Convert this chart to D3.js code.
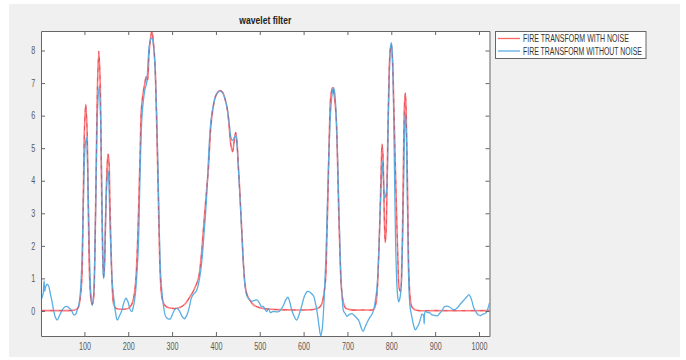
<!DOCTYPE html>
<html>
<head>
<meta charset="utf-8">
<script src="https://cdn.jsdelivr.net/npm/d3@7"></script>
<style>
  html, body { margin: 0; padding: 0; background: #ffffff; }
  svg { display: block; font-family: "Liberation Sans", Arial, sans-serif; }
</style>
</head>
<body>
<svg id="chart" width="686" height="360"></svg>
<script>
// ---------- DATA ----------
const chartTitle = "wavelet filter";
const seriesNames = ["FIRE TRANSFORM WITH NOISE", "FIRE TRANSFORM WITHOUT NOISE"];
const xTicks = [100, 200, 300, 400, 500, 600, 700, 800, 900, 1000];
const yTicks = [0, 1, 2, 3, 4, 5, 6, 7, 8];

const redX = [1,20,50,75,85,90,94,97,100,103,106,109,112,115,118,121,124,127,130,133,136,139,142,144,146,149,152,154,156,158,161,164,167,172,185,200,208,213,217,221,224,227,230,234,238,241,244,247,250,254,257,261,264,267,270,273,276,280,288,300,311,320,330,341,350,360,366,372,378,383,388,393,398,404,410,416,421,426,430,434,438,441,445,448,451,454,457,460,463,467,471,478,486,500,517,540,600,625,635,641,646,650,653,656,659,662,666,670,674,677,680,683,686,690,695,705,740,760,765,768,771,774,777,779,781,783,786,788,791,794,797,800,803,806,809,812,815,818,821,824,827,830,832,834,837,840,843,847,855,900,1024];
const redY = [0.01,0.01,0.01,0.02,0.08,0.35,0.95,3.0,5.5,6.35,5.6,3.0,1.0,0.35,0.2,0.4,1.8,4.5,7.0,7.98,7.0,4.0,1.6,1.05,1.5,3.2,4.5,4.82,4.6,3.5,1.8,0.6,0.2,0.08,0.05,0.08,0.2,0.45,0.9,2.0,3.3,4.8,6.2,6.7,7.0,7.2,7.1,7.8,8.3,8.6,8.3,7.6,6.2,4.5,2.6,1.1,0.5,0.25,0.12,0.08,0.08,0.12,0.22,0.44,0.65,1.0,1.6,2.6,3.6,4.4,5.6,6.2,6.55,6.72,6.77,6.7,6.5,6.2,5.7,5.1,4.89,5.15,5.48,5.2,4.5,3.8,3.0,2.2,1.4,0.75,0.5,0.32,0.18,0.1,0.06,0.04,0.03,0.05,0.1,0.2,0.5,0.95,2.2,3.8,5.6,6.6,6.86,6.6,6.0,4.8,3.1,1.7,0.75,0.3,0.1,0.04,0.03,0.05,0.25,0.65,1.6,2.8,4.4,5.13,4.8,3.6,2.1,2.4,4.5,6.7,7.9,8.19,7.6,6.2,4.6,3.0,1.6,0.7,0.6,1.4,3.8,6.3,6.7,6.1,3.8,1.2,0.4,0.12,0.03,0.01,0.01];

const blueX = [1,3,6,8,9.5,11,15,18,22,26,30,34,38,43,49,55,60,66,71,76,80,84,87,90,94,97,100,102,104.5,107,110,113,116,118,121,124,127,130,134,137,140,142,143.5,145,147,150,152,154,156,158,161,164,168,171,175,180,184.5,190,194.5,199,204,208,212,216,219,223,227,231,234,238,242,245,248,253,256,259,262,265,268,271,274,277.5,281,284,288,295,301,306,311,316,322,328,334,339,344,349,355,360,365,369,373,376.5,380,383,386,389,394,399.5,405,410,416,421,426,430,434,437.6,441,445,448,451,454,457,460,463,467,471,476,481,487,493,499,504,508,512,516,520,524,529,535,541,547,554,559,564,568,573,579,584,590,596,601,605,609,614,619,623,627,631,635,639,642,645,648,651,654,657,660,663,666,668.5,671,674,677,680,683,686,688,691,695,699,703,710,714,720,726,731,735.5,740,745,750,756,760,764,767.5,771,774,777,780,782,785,788,790,793,796,798,800.4,803,806,808,810,813,815,817,819,822,825,828,830,832,834,836,838,840,843,847.5,851,855,859,863,867,870,873,875,876,878,882,887,893,899,905,910,916,921,927,933,940,945,951,958,965,972,977,980,984,988,993,998,1004,1009,1014,1018,1021,1024];
const blueY = [0.35,0.4,0.55,0.92,0.6,0.72,0.82,0.78,0.55,0.3,0.0,-0.2,-0.28,-0.15,0.02,0.12,0.14,0.08,0.0,-0.12,-0.1,0.05,0.17,0.45,1.4,3.0,4.6,5.1,5.33,4.6,2.8,1.0,0.3,0.17,0.5,1.9,4.2,6.2,6.91,5.9,3.5,1.8,1.0,1.1,2.0,3.6,4.1,4.31,3.9,2.8,1.6,0.8,0.28,-0.05,-0.28,-0.15,-0.02,0.25,0.39,0.3,0.05,-0.02,0.15,0.49,1.0,1.97,4.2,5.9,6.4,6.8,7.0,7.6,8.15,8.39,8.3,7.93,7.2,6.0,4.3,2.4,1.1,0.49,0.1,-0.12,-0.22,-0.25,-0.1,0.04,0.08,0.02,-0.15,-0.24,-0.12,0.1,0.4,0.52,0.6,0.82,1.2,1.7,2.4,3.0,3.8,4.7,5.4,5.9,6.3,6.6,6.72,6.76,6.68,6.5,6.2,5.8,5.35,5.23,5.3,5.4,5.1,4.4,3.7,2.9,2.1,1.35,0.7,0.45,0.35,0.3,0.32,0.34,0.25,0.13,0.14,0.05,-0.02,0.08,-0.05,-0.02,-0.02,-0.03,0.02,0.17,0.33,0.42,0.3,0.02,-0.18,-0.28,-0.1,0.17,0.42,0.54,0.6,0.58,0.52,0.45,0.24,-0.05,-0.45,-0.77,-0.6,-0.1,0.75,1.7,3.2,4.6,5.7,6.4,6.75,6.86,6.7,6.1,5.0,3.4,1.9,0.8,0.4,0.0,-0.08,-0.17,-0.12,-0.08,-0.12,-0.2,-0.3,-0.5,-0.63,-0.5,-0.35,-0.22,-0.1,0.05,0.35,0.74,1.6,2.8,3.9,4.6,4.1,3.45,3.6,3.8,5.8,7.5,8.1,8.24,7.7,5.5,3.6,2.0,0.74,0.4,0.28,0.35,0.64,1.7,3.8,5.4,6.1,5.6,4.0,2.2,0.8,0.1,-0.22,-0.45,-0.58,-0.5,-0.4,-0.22,-0.1,-0.12,-0.4,-0.1,0.0,-0.05,-0.05,-0.12,-0.14,-0.15,-0.08,0.02,0.13,0.15,0.12,0.05,0.04,0.1,0.22,0.32,0.43,0.5,0.45,0.3,0.1,-0.02,-0.12,-0.14,-0.1,-0.08,-0.02,0.1,0.25];

// ---------- LAYOUT ----------
const W = 686, H = 360;
const plot = { left: 41, right: 489.5, top: 31, bottom: 336 };
const svg = d3.select("#chart");

svg.append("rect").attr("x", 0).attr("y", 0).attr("width", W).attr("height", H).attr("fill", "#ffffff");
svg.append("rect").attr("x", 9).attr("y", 4).attr("width", 671).attr("height", 353).attr("fill", "#f0f0f0");
svg.append("rect").attr("x", plot.left).attr("y", plot.top)
   .attr("width", plot.right - plot.left).attr("height", plot.bottom - plot.top).attr("fill", "#ffffff");

const x = d3.scaleLinear().domain([1, 1024]).range([plot.left, plot.right]);
const y = d3.scaleLinear().domain([-0.77, 8.6]).range([plot.bottom, plot.top]);

svg.append("defs").append("clipPath").attr("id", "clip")
   .append("rect").attr("x", plot.left).attr("y", plot.top)
   .attr("width", plot.right - plot.left).attr("height", plot.bottom - plot.top);

const redData = redX.map((v, i) => [v, redY[i]]);
const blueData = blueX.map((v, i) => [v, blueY[i]]);
const line = d3.line().x(d => x(d[0])).y(d => y(d[1])).curve(d3.curveCatmullRom.alpha(0.5));

const redColor = "#ff6464";
const blueColor = "#5aaee3";

const g = svg.append("g").attr("clip-path", "url(#clip)");
g.append("path").attr("d", line(redData)).attr("fill", "none")
  .attr("stroke", redColor).attr("stroke-width", 1.6).attr("stroke-opacity", 0.85);
g.append("path").attr("d", line(blueData)).attr("fill", "none")
  .attr("stroke", blueColor).attr("stroke-width", 1.3);
g.append("path").attr("d", line(redData)).attr("fill", "none")
  .attr("stroke", "#c8324e").attr("stroke-width", 1).attr("stroke-opacity", 0.55)
  .attr("stroke-dasharray", "4,5");

// ---------- AXES ----------
const axisColor = "#666666";
const textColor = "#5a5a5a";
function styleAxis(sel) {
  sel.select(".domain").attr("stroke", axisColor);
  sel.selectAll(".tick line").attr("stroke", axisColor);
  sel.selectAll(".tick text").attr("fill", textColor).attr("font-size", 10)
     .attr("font-family", "'Liberation Sans', Arial, sans-serif");
}

const xb = svg.append("g").attr("transform", `translate(0,${plot.bottom})`)
  .call(d3.axisBottom(x).tickValues(xTicks).tickFormat(d3.format("d"))
    .tickSizeInner(-4).tickSizeOuter(0).tickPadding(7));
styleAxis(xb);
xb.selectAll(".tick text").attr("transform", "scale(0.72,1)");

const xt = svg.append("g").attr("transform", `translate(0,${plot.top})`)
  .call(d3.axisTop(x).tickValues(xTicks).tickSizeInner(-4).tickSizeOuter(0).tickFormat(""));
styleAxis(xt);

const yl = svg.append("g").attr("transform", `translate(${plot.left},0)`)
  .call(d3.axisLeft(y).tickValues(yTicks).tickFormat(d3.format("d"))
    .tickSizeInner(-4).tickSizeOuter(0).tickPadding(8));
styleAxis(yl);
yl.selectAll(".tick text").attr("transform", "scale(0.72,1)");

const yr = svg.append("g").attr("transform", `translate(${plot.right},0)`)
  .call(d3.axisRight(y).tickValues(yTicks).tickSizeInner(-4).tickSizeOuter(0).tickFormat(""));
styleAxis(yr);

// condensed text helper: scales a text horizontally to a target width
function condense(sel, tx, ty, targetW) {
  const natural = sel.node().getComputedTextLength();
  const sx = natural > 0 ? targetW / natural : 1;
  sel.attr("transform", `translate(${tx},${ty}) scale(${sx},1)`);
}

// ---------- TITLE ----------
const title = svg.append("text").attr("x", 0).attr("y", 0)
  .attr("text-anchor", "middle").attr("font-size", 11).attr("font-weight", "bold")
  .attr("fill", "#222").text(chartTitle);
condense(title, (plot.left + plot.right) / 2, 24, 52);

// ---------- LEGEND ----------
const lg = svg.append("g");
lg.append("rect").attr("x", 495.5).attr("y", 31.5).attr("width", 150.5).attr("height", 27)
  .attr("fill", "#ffffff").attr("stroke", "#666666");
const legendColors = [redColor, blueColor];
const legendWidths = [106, 119];
seriesNames.forEach((name, i) => {
  const yy = 38.5 + i * 12.5;
  lg.append("line").attr("x1", 498).attr("x2", 520).attr("y1", yy).attr("y2", yy)
    .attr("stroke", legendColors[i]).attr("stroke-width", 1.3);
  const t = lg.append("text").attr("x", 0).attr("y", 0).attr("font-size", 10)
    .attr("fill", "#333").text(name);
  condense(t, 523, yy + 3.5, legendWidths[i]);
});
</script>
</body>
</html>
